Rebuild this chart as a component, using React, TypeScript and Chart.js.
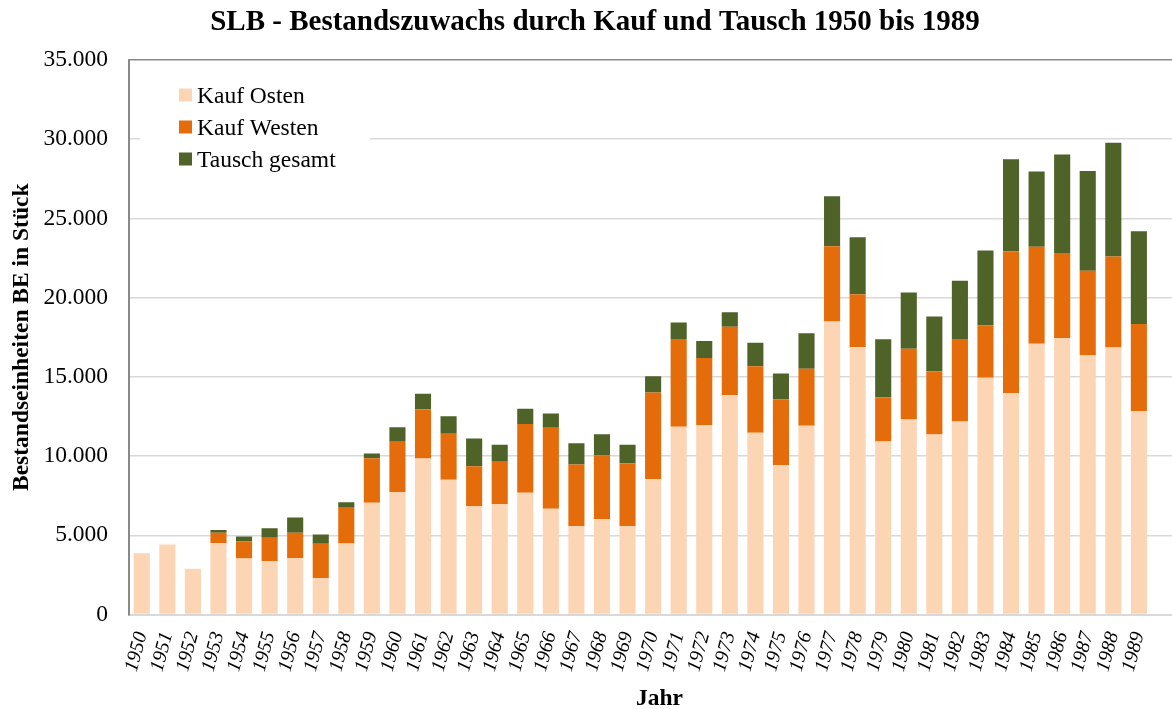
import React, { useEffect, useRef } from 'react';
import { Chart, registerables } from 'chart.js';

Chart.register(...registerables);

const years = [
  1950, 1951, 1952, 1953, 1954, 1955, 1956, 1957, 1958, 1959,
  1960, 1961, 1962, 1963, 1964, 1965, 1966, 1967, 1968, 1969,
  1970, 1971, 1972, 1973, 1974, 1975, 1976, 1977, 1978, 1979,
  1980, 1981, 1982, 1983, 1984, 1985, 1986, 1987, 1988, 1989,
];

const kaufOsten = [
  3870, 4420, 2880, 4500, 3530, 3360, 3550, 2300, 4480, 7060,
  7740, 9850, 8500, 6850, 6970, 7690, 6680, 5570, 6010, 5590,
  8530, 11850, 11950, 13845, 11470, 9430, 11910, 18500, 16880, 10920,
  12310, 11360, 12180, 14940, 13970, 17090, 17430, 16380, 16860, 12840,
];

const kaufWesten = [
  0, 0, 0, 660, 1080, 1480, 1610, 2160, 2260, 2810,
  3170, 3110, 2910, 2500, 2670, 4330, 5100, 3900, 4030, 3950,
  5480, 5540, 4235, 4314, 4200, 4140, 3600, 4745, 3330, 2800,
  4470, 4000, 5210, 3310, 8960, 6130, 5390, 5310, 5730, 5500,
];

const tauschGesamt = [
  0, 0, 0, 170, 320, 610, 970, 590, 340, 300,
  910, 970, 1100, 1760, 1070, 970, 900, 1340, 1330, 1180,
  1030, 1040, 1085, 920, 1490, 1640, 2250, 3160, 3600, 3650,
  3540, 3455, 3670, 4720, 5810, 4740, 6210, 6310, 7180, 5850,
];

const seriesLabels = ['Kauf Osten', 'Kauf Westen', 'Tausch gesamt'];
const seriesColors = ['#FCD5B5', '#E46C0A', '#4F6228'];

const titleText = 'SLB - Bestandszuwachs durch Kauf und Tausch 1950 bis 1989';
const yTitle = 'Bestandseinheiten BE in Stück';
const xTitle = 'Jahr';

const SERIF = '"Liberation Serif", "Times New Roman", serif';

const fmtThousands = (v: number) =>
  String(Math.round(v)).replace(/\B(?=(\d{3})+(?!\d))/g, '.');

const boxLegend = {
  id: 'boxLegend',
  afterDraw(chart: any) {
    const { ctx, chartArea } = chart;
    const x0 = chartArea.left + 11;
    const y0 = chartArea.top + 10;
    ctx.save();
    ctx.fillStyle = '#ffffff';
    ctx.fillRect(x0, y0, 230, 112);
    ctx.font = `23.5px ${SERIF}`;
    ctx.textBaseline = 'alphabetic';
    ctx.textAlign = 'left';
    chart.data.datasets.forEach((ds: any, i: number) => {
      const cy = chartArea.top + 35 + i * 32;
      ctx.fillStyle = ds.backgroundColor;
      ctx.fillRect(chartArea.left + 50, cy - 6.5, 13, 13);
      ctx.fillStyle = '#000000';
      ctx.fillText(ds.label, chartArea.left + 68, cy + 7.7);
    });
    ctx.restore();
  },
};

export default function App() {
  const canvasRef = useRef<HTMLCanvasElement | null>(null);

  useEffect(() => {
    if (!canvasRef.current) return;
    const series = [kaufOsten, kaufWesten, tauschGesamt];
    const chart = new Chart(canvasRef.current, {
      type: 'bar',
      data: {
        datasets: series.map((vals, i) => ({
          label: seriesLabels[i],
          data: years.map((y, j) => ({ x: y, y: vals[j] })),
          backgroundColor: seriesColors[i],
          borderWidth: 0,
          categoryPercentage: 1,
          barPercentage: 0.63,
        })),
      },
      options: {
        responsive: false,
        animation: false,
        devicePixelRatio: 1,
        layout: { padding: 0 },
        plugins: {
          legend: { display: false },
          tooltip: { enabled: false },
          title: {
            display: true,
            text: titleText,
            color: '#000000',
            font: { family: SERIF, size: 29, weight: 'bold', lineHeight: 1.2 },
            padding: { top: 5, bottom: 20.2 },
          },
        },
        scales: {
          x: {
            type: 'linear',
            stacked: true,
            offset: false,
            bounds: 'data',
            min: 1949.5,
            max: 1991,
            grid: { display: false, drawTicks: false, offset: false },
            border: { display: true, color: '#d9d9d9', width: 2 },
            afterBuildTicks: (scale: any) => {
              scale.ticks = years.map((v) => ({ value: v }));
            },
            ticks: {
              autoSkip: false,
              minRotation: 75,
              maxRotation: 75,
              padding: 15,
              color: '#000000',
              font: { family: SERIF, size: 20, style: 'italic' },
              callback: (v: any) => String(v),
            },
            title: {
              display: true,
              text: xTitle,
              color: '#000000',
              font: { family: SERIF, size: 23.5, weight: 'bold', lineHeight: 1 },
              padding: { top: 0, bottom: -2 },
            },
            afterFit: (scale: any) => {
              scale.height = 94.5;
              scale.paddingLeft = 0;
              scale.paddingRight = 0;
            },
          },
          y: {
            stacked: true,
            min: 0,
            max: 35000,
            grid: {
              drawTicks: false,
              color: (c: any) => (c.tick && c.tick.value === 35000 ? '#898989' : '#d9d9d9'),
              lineWidth: 1.5,
            },
            border: { display: true, color: '#898989', width: 2 },
            ticks: {
              stepSize: 5000,
              padding: 21,
              color: '#000000',
              font: { family: SERIF, size: 23.5 },
              callback: (v: any) => fmtThousands(Number(v)),
            },
            title: {
              display: true,
              text: yTitle,
              color: '#000000',
              font: { family: SERIF, size: 23.5, weight: 'bold', lineHeight: 1.2 },
              padding: { top: 8, bottom: 0 },
            },
            afterFit: (scale: any) => {
              scale.width = 129;
            },
          },
        },
      },
      plugins: [boxLegend],
    } as any);
    return () => chart.destroy();
  }, []);

  return (
    <div
      style={{
        position: 'fixed',
        left: 0,
        top: 0,
        width: 1172,
        height: 709,
        overflow: 'hidden',
        background: '#ffffff',
      }}
    >
      <canvas ref={canvasRef} width={1190} height={709} style={{ display: 'block' }} />
    </div>
  );
}
